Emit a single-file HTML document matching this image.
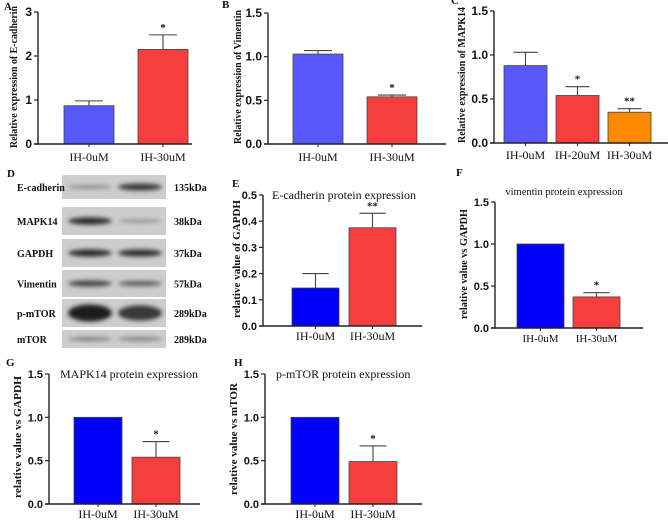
<!DOCTYPE html>
<html><head><meta charset="utf-8"><style>
html,body{margin:0;padding:0;background:#fff;}
svg{display:block;}
.tk{font-family:"Liberation Sans",Arial,sans-serif;font-weight:bold;fill:#111;}
.sr{font-family:"Liberation Serif","Times New Roman",serif;fill:#111;}
</style></head><body>
<svg id="fig" width="668" height="521" viewBox="0 0 668 521" xmlns="http://www.w3.org/2000/svg">
<defs><filter id="bl" x="-30%" y="-100%" width="160%" height="300%"><feGaussianBlur stdDeviation="2.2"/></filter></defs>
</svg>
<script>
// ---- data ----
const catsA = ["IH-0uM","IH-30uM"];
const valsA = [0.87, 2.15];
const errsA = [0.98, 2.48];
const starsA = ["", "*"];
const ticksA = [0,1,2,3];
const tickLabelsA = ["0","1","2","3"];

const catsB = ["IH-0uM","IH-30uM"];
const valsB = [1.03, 0.54];
const errsB = [1.07, 0.56];
const starsB = ["", "*"];
const ticksB = [0,0.5,1.0,1.5];
const tickLabelsB = ["0.0","0.5","1.0","1.5"];

const catsC = ["IH-0uM","IH-20uM","IH-30uM"];
const valsC = [0.88, 0.54, 0.35];
const errsC = [1.03, 0.64, 0.39];
const starsC = ["", "*", "**"];
const ticksC = [0,0.5,1.0,1.5];
const tickLabelsC = ["0.0","0.5","1.0","1.5"];

const catsE = ["IH-0uM","IH-30uM"];
const valsE = [0.145, 0.375];
const errsE = [0.2, 0.43];
const starsE = ["", "**"];
const ticksE = [0,0.1,0.2,0.3,0.4,0.5];
const tickLabelsE = ["0.0","0.1","0.2","0.3","0.4","0.5"];

const catsF = ["IH-0uM","IH-30uM"];
const valsF = [1.0, 0.37];
const errsF = [1.0, 0.42];
const starsF = ["", "*"];
const ticksF = [0,0.5,1.0,1.5];
const tickLabelsF = ["0.0","0.5","1.0","1.5"];

const catsG = ["IH-0uM","IH-30uM"];
const valsG = [1.0, 0.54];
const errsG = [1.0, 0.72];
const starsG = ["", "*"];
const ticksG = [0,0.5,1.0,1.5];
const tickLabelsG = ["0.0","0.5","1.0","1.5"];

const catsH = ["IH-0uM","IH-30uM"];
const valsH = [1.0, 0.49];
const errsH = [1.0, 0.67];
const starsH = ["", "*"];
const ticksH = [0,0.5,1.0,1.5];
const tickLabelsH = ["0.0","0.5","1.0","1.5"];

const NS = "http://www.w3.org/2000/svg";
const svg = document.getElementById("fig");
function mk(tag, attrs, parent){
  const e = document.createElementNS(NS, tag);
  for (const k in attrs) e.setAttribute(k, attrs[k]);
  (parent||svg).appendChild(e);
  return e;
}
function txt(parent, x, y, s, cls, size, anchor, extra){
  const t = mk("text", Object.assign({x:x, y:y, class:cls, "font-size":size, "text-anchor":anchor||"start"}, extra||{}), parent);
  t.textContent = s;
  return t;
}

function panel(id, L, cats, vals, errs, stars, ticks, tickLabels, colors){
  const g = mk("g", {});
  
  
  const yScale = v => L.y0 - (v / L.max) * (L.y0 - L.yTop);
  const xBand = i => L.b0 + i * L.step;
  const lt = txt(g, L.lx, L.ly, L.letter, "sr", 11, "start", {"font-weight":"bold"});
  
  
  if (L.title){
    const tt = txt(g, L.tx, L.ty, L.title, "sr", L.tsize || 12, L.tanchor || "start");
    
    
  }
  const yt = txt(g, 0, 0, L.ytitle, "sr", L.ysize || 11, "middle", {"font-weight":"bold", textLength:L.ylen, lengthAdjust:"spacingAndGlyphs", transform:`translate(${L.yx},${L.yc}) rotate(-90)`});
  
  
  cats.forEach((c, i) => {
    const x = xBand(i), y = yScale(vals[i]);
    const r = mk("rect", {x:x, y:y, width:L.bw, height:L.y0 - y, fill:colors[i], stroke:"#444", "stroke-width":0.8}, g);
    
    
    if (errs[i] > vals[i] + 0.001){
      const cx = x + L.bw/2, ye = yScale(errs[i]);
      const el = mk("path", {d:`M${cx},${y} V${ye} M${cx - L.bw*0.28},${ye} H${cx + L.bw*0.28}`, stroke:"#444", "stroke-width":1.1, fill:"none"}, g);
      
      
      if (stars[i]){
        const st = txt(g, cx, ye - 4, stars[i], "sr", 11, "middle", {"font-weight":"bold"});
        
        
      }
    }
    const xt = mk("line", {x1:x+L.bw/2, x2:x+L.bw/2, y1:L.y0, y2:L.y0+3, stroke:"#222", "stroke-width":1}, g);
    
    
    const xl = txt(g, x + L.bw/2, L.y0 + L.xlOff, c, "sr", L.xsize || 12, "middle");
    
    
  });
  const ya = mk("line", {x1:L.ax, x2:L.ax, y1:L.yTop, y2:L.y0, stroke:"#222", "stroke-width":1.4}, g);
  
  
  const xa = mk("line", {x1:L.ax - 4, x2:L.xEnd, y1:L.y0, y2:L.y0, stroke:"#222", "stroke-width":1.6}, g);
  
  
  ticks.forEach((t, i) => {
    const y = yScale(t);
    const tm = mk("line", {x1:L.ax - 4, x2:L.ax, y1:y, y2:y, stroke:"#222", "stroke-width":1.2}, g);
    
    
    const tl = txt(g, L.ax - 6, y + 4, tickLabels[i], "tk", L.ksize || 12, "end");
    
    
  });
}

const blue1 = "#5757fb", red1 = "#f53f3f", orange1 = "#ff8a00", blue2 = "#0000ff";

panel("panel-a", {letter:"A", lx:4, ly:10, ax:38, y0:144, yTop:12, max:3, xEnd:192, b0:64, step:74, bw:50, xlOff:17, yx:17, yc:77, ylen:142, ysize:10, ytitle:"Relative expression of E-cadherin"},
  catsA, valsA, errsA, starsA, ticksA, tickLabelsA, [blue1, red1]);
panel("panel-b", {letter:"B", lx:222, ly:8, ax:268, y0:144, yTop:13, max:1.5, xEnd:446, b0:293, step:74, bw:50, xlOff:17, yx:241, yc:77, ylen:134, ysize:10, ytitle:"Relative expression of Vimentin"},
  catsB, valsB, errsB, starsB, ticksB, tickLabelsB, [blue1, red1]);
panel("panel-c", {letter:"C", lx:451, ly:4, ax:494, y0:143, yTop:11, max:1.5, xEnd:668, b0:504, step:52, bw:43, xlOff:16, yx:465, yc:75, ylen:136, ysize:10, ytitle:"Relative expression of MAPK14"},
  catsC, valsC, errsC, starsC, ticksC, tickLabelsC, [blue1, red1, orange1]);
panel("panel-e", {letter:"E", lx:232, ly:187, ax:263, y0:326, yTop:195, max:0.5, xEnd:422, b0:292, step:57, bw:47, xlOff:14, yx:240, yc:259, ylen:118, ysize:11, ksize:11, ytitle:"relative value of  GAPDH", title:"E-cadherin protein expression", tx:272, ty:199, tsize:12},
  catsE, valsE, errsE, starsE, ticksE, tickLabelsE, [blue2, red1]);
panel("panel-f", {letter:"F", lx:456, ly:176, ax:495, y0:328, yTop:202, max:1.5, xEnd:643, b0:517, step:56, bw:47, xlOff:14, yx:467, yc:264, ylen:110, ysize:10, ksize:11, xsize:11, ytitle:"relative value vs GAPDH", title:"vimentin protein expression", tx:564, ty:195, tsize:10.5, tanchor:"middle"},
  catsF, valsF, errsF, starsF, ticksF, tickLabelsF, [blue2, red1]);
panel("panel-g", {letter:"G", lx:6, ly:366, ax:49, y0:504, yTop:374, max:1.5, xEnd:200, b0:74, step:58, bw:48, xlOff:14, yx:21, yc:437, ylen:122, ysize:11, ksize:11, ytitle:"relative value vs GAPDH", title:"MAPK14 protein expression", tx:60, ty:378, tsize:12},
  catsG, valsG, errsG, starsG, ticksG, tickLabelsG, [blue2, red1]);
panel("panel-h", {letter:"H", lx:234, ly:366, ax:265, y0:504, yTop:374, max:1.5, xEnd:422, b0:291, step:58, bw:48, xlOff:14, yx:237, yc:439, ylen:112, ysize:11, ksize:11, ytitle:"relative value vs mTOR", title:"p-mTOR protein expression", tx:276, ty:378, tsize:12},
  catsH, valsH, errsH, starsH, ticksH, tickLabelsH, [blue2, red1]);

// ---- western blot (panel D) ----
const blotNames = ["E-cadherin","MAPK14","GAPDH","Vimentin","p-mTOR","mTOR"];
const blotKda = ["135kDa","38kDa","37kDa","57kDa","289kDa","289kDa"];
const lane1 = [0.35, 0.9, 0.9, 0.75, 1.0, 0.4];
const lane2 = [0.85, 0.3, 0.88, 0.6, 0.85, 0.4];
const rowTop = [175, 207, 239, 270, 299, 330];
const rowBot = [199, 235, 267, 297, 327, 348];
const gD = mk("g", {});


const dl = txt(gD, 7, 177, "D", "sr", 11, "start", {"font-weight":"bold"});


blotNames.forEach((n, i) => {
  const t = rowTop[i], b = rowBot[i], h = b - t, cy = (t + b) / 2;
  const bg = mk("rect", {x:62, y:t, width:104, height:h, fill:"#cdcdcd"}, gD);
  
  
  [[90, lane1[i]], [140, lane2[i]]].forEach(([cx, s], j) => {
    const g2 = Math.round(200 - 170 * s);
    const bh = (i === 4 ? 5 + 12 * s : 2 + 6 * s);
    const band = mk("ellipse", {cx:cx, cy:cy, rx:22, ry:bh/2, fill:`rgb(${g2},${g2},${g2})`, filter:"url(#bl)"}, gD);
    
    
  });
  const nl = txt(gD, 17, cy + 4, n, "sr", 10, "start", {"font-weight":"bold"});
  
  
  const kl = txt(gD, 174, cy + 4, blotKda[i], "sr", 10, "start", {"font-weight":"bold"});
  
  
});
</script>
</body></html>
